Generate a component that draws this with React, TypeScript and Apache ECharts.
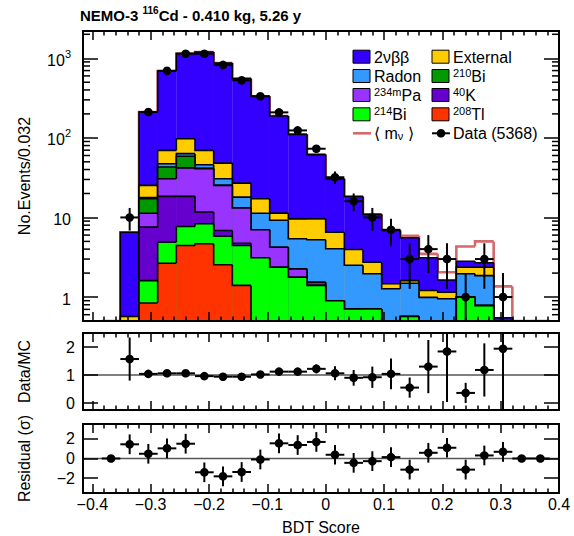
import React, { useEffect, useRef } from "react";
import * as echarts from "echarts";

const FONT = "'Liberation Sans', Arial, Helvetica, sans-serif";

const binWidth = 0.032;
const bdtBins = [
  -0.368, -0.336, -0.304, -0.272, -0.24, -0.208, -0.176, -0.144, -0.112, -0.08, -0.048, -0.016,
  0.016, 0.048, 0.08, 0.112, 0.144, 0.176, 0.208, 0.24, 0.272, 0.304, 0.336, 0.368,
];

// MC components (events per bin), stacking order bottom -> top
const tl208 = [0, 0, 0.84, 2.66, 4.44, 4.67, 2.54, 1.4, 0, 0, 0, 0, 0, 0, 0, 0, 0, 0, 0, 0, 0, 0, 0, 0];
const bi214 = [0, 0, 0.77, 2.23, 3.27, 3.67, 3.28, 3.04, 3.11, 2.37, 1.77, 1.4, 0.9, 0.71, 0.71, 0, 0.57, 0, 0, 1.01, 0.78, 0, 0, 0];
const k40 = [0, 0, 5.94, 13.5, 10.7, 3.36, 1.04, 0.31, 0, 0, 0, 0, 0, 0, 0, 0, 0, 0, 0, 0, 0, 0, 0, 0];
const pa234m = [0, 0, 3.75, 12.3, 23.6, 29.3, 18.4, 8.45, 3.9, 1.86, 0.49, 0.13, 0, 0, 0, 0, 0, 0, 0, 0, 0, 0, 0, 0];
const bi210 = [0, 0, 5.9, 12.3, 16.6, 0.5, 0, 0, 0, 0, 0, 0, 0, 0, 0, 0, 0, 0, 0, 0, 0, 0, 0, 0];
const radon = [0, 0, 0.6, 4.3, 4.7, 4.5, 5.4, 4.8, 4.3, 5.0, 3.14, 3.71, 3.14, 1.8, 1.25, 1.27, 0.92, 0.99, 0.95, 0.95, 1.08, 0, 0, 0];
const external = [0, 0.57, 7.5, 22.3, 34.3, 23.6, 17.5, 9.0, 5.9, 2.1, 4.2, 4.36, 2.49, 1.45, 0.78, 0.2, 0.12, 0.22, 0.2, 0.41, 0.51, 0, 0, 0];
const twoNuBB = [0, 5.96, 185.7, 622, 1048, 1130, 825, 529, 316, 177, 101, 52, 24, 14.4, 8.2, 5.4, 3.94, 1.9, 0.49, 0.45, 0.33, 0.55, 0, 0];
const mnuSignal = [0, 0, 0, 0, 0, 0, 0, 0, 0, 0, 0, 0, 0, 0, 0, 0, 0.35, 0.38, 0.41, 1.5, 2.3, 0.81, 0, 0];

const dataCounts = [0, 10, 211, 695, 1140, 1140, 825, 528, 333, 209, 124, 73, 32, 16, 10, 7, 3, 4, 3, 1, 3, 1, 0, 0];

const ratio = [null, 1.57, 1.04, 1.06, 1.06, 0.96, 0.94, 0.94, 1.02, 1.12, 1.12, 1.22, 1.06, 0.9, 0.92, 1.04, 0.55, 1.3, 1.84, 0.36, 1.18, 1.94, null, null];
const ratioErr = [0, 0.77, 0.06, 0.04, 0.03, 0.03, 0.03, 0.04, 0.05, 0.07, 0.09, 0.16, 0.25, 0.28, 0.38, 0.55, 0.36, 0.95, 1.8, 0.36, 0.95, 2.5, 0, 0];

const resid = [0, 1.44, 0.48, 1.03, 1.5, -1.4, -1.81, -1.37, -0.1, 1.54, 1.37, 1.68, 0.38, -0.44, -0.27, 0.14, -1.13, 0.58, 1.09, -1.13, 0.31, 0.68, 0, 0];
const residErr = [0, 1, 1, 1, 1, 1, 1, 1, 1, 1, 1, 1, 1, 1, 1, 1, 1, 1, 1, 1, 1, 1, 0, 0];

const logMinorTicks = [0.6, 0.7, 0.8, 0.9, 2, 3, 4, 5, 6, 7, 8, 9, 20, 30, 40, 50, 60, 70, 80, 90, 200, 300, 400, 500, 600, 700, 800, 900, 2000];

const X_MIN = -0.416;
const X_MAX = 0.4;
const Y_MIN = 0.5;
const Y_MAX = 2200;
const RATIO_MIN = -0.25;
const RATIO_MAX = 2.5;
const RES_MIN = -3.5;
const RES_MAX = 3.5;

const layers = [
  { name: "208Tl", values: tl208, color: "#ff3300" },
  { name: "214Bi", values: bi214, color: "#00ff00" },
  { name: "40K", values: k40, color: "#6600cc" },
  { name: "234mPa", values: pa234m, color: "#9933ff" },
  { name: "210Bi", values: bi210, color: "#009900" },
  { name: "Radon", values: radon, color: "#3399ff" },
  { name: "External", values: external, color: "#ffcc00" },
  { name: "2nbb", values: twoNuBB, color: "#3300ff" },
];

const MNU_COLOR = "#d46a6a";

function cumulative(): number[][] {
  const out: number[][] = [];
  let run = bdtBins.map(() => 0);
  for (const L of layers) {
    run = run.map((r, i) => r + L.values[i]);
    out.push(run);
  }
  return out;
}

function histData(vals: number[]) {
  return bdtBins.map((x, i) => [x, Math.max(vals[i], Y_MIN), Math.max(i > 0 ? vals[i - 1] : 0, Y_MIN)]);
}

function histRender(fill: string | null, stroke: string, lw: number) {
  return (params: any, api: any) => {
    const x = api.value(0);
    const top = api.value(1);
    const prev = api.value(2);
    const a = api.coord([x - binWidth / 2, top]);
    const b = api.coord([x + binWidth / 2, top]);
    const p = api.coord([x - binWidth / 2, prev]);
    const base = api.coord([x, Y_MIN])[1];
    const children: any[] = [];
    if (fill && top > Y_MIN) {
      children.push({
        type: "rect",
        shape: { x: a[0], y: a[1], width: b[0] - a[0] + 0.3, height: base - a[1] },
        style: { fill },
      });
    }
    children.push({
      type: "polyline",
      shape: { points: [[p[0], p[1]], [a[0], a[1]], [b[0], b[1]]] },
      style: { stroke, lineWidth: lw, fill: null },
    });
    return { type: "group", children };
  };
}

function pointRender(yLow: number, yHigh: number) {
  return (params: any, api: any) => {
    const x = api.value(0);
    const y = api.value(1);
    const e = api.value(2);
    const c = api.coord([x, y]);
    const l = api.coord([x - binWidth / 2, y]);
    const r = api.coord([x + binWidth / 2, y]);
    const children: any[] = [
      { type: "line", shape: { x1: l[0], y1: l[1], x2: r[0], y2: r[1] }, style: { stroke: "#000", lineWidth: 2 } },
    ];
    if (e > 0) {
      const lo = api.coord([x, Math.max(y - e, yLow)]);
      const hi = api.coord([x, Math.min(y + e, yHigh)]);
      children.push({ type: "line", shape: { x1: lo[0], y1: lo[1], x2: hi[0], y2: hi[1] }, style: { stroke: "#000", lineWidth: 2 } });
    }
    children.push({ type: "circle", shape: { cx: c[0], cy: c[1], r: 4.3 }, style: { fill: "#000" } });
    return { type: "group", children };
  };
}

const xFmt = (v: number) => {
  if (Math.abs(v) < 1e-9) return "0";
  const a = Math.abs(v).toFixed(1);
  return (v < 0 ? "\u2212" : "") + a;
};
const yFmt = (v: number) => {
  if (Math.abs(v) < 1e-9) return "0";
  return (v < 0 ? "\u2212" : "") + String(Math.abs(Math.round(v * 100) / 100));
};
const logFmt = (v: number) => {
  const e = Math.round(Math.log10(v));
  if (e <= 0) return "{n|1}";
  if (e === 1) return "{n|10}";
  return "{n|10}{s|" + e + "}";
};

const labelRich = {
  n: { fontSize: 16, fontFamily: FONT, color: "#000", lineHeight: 20, verticalAlign: "bottom" },
  s: { fontSize: 11, fontFamily: FONT, color: "#000", lineHeight: 8, verticalAlign: "top" },
};

function makeX(gi: number, pos: string, labels: boolean, majorLen: number, minorLen: number, extra: any = {}) {
  return {
    type: "value",
    gridIndex: gi,
    position: pos,
    min: X_MIN,
    max: X_MAX,
    splitNumber: 8,
    z: 10,
    axisLine: { show: true, onZero: false, lineStyle: { color: "#000", width: 2 } },
    axisTick: { show: true, inside: true, length: majorLen, lineStyle: { color: "#000", width: 1.5 } },
    minorTick: { show: true, splitNumber: 5, length: minorLen, lineStyle: { color: "#000", width: 1.5 } },
    splitLine: { show: false },
    minorSplitLine: { show: false },
    axisLabel: {
      show: labels,
      formatter: xFmt,
      fontSize: 16,
      fontFamily: FONT,
      color: "#000",
      margin: 3,
      showMinLabel: false,
      showMaxLabel: true,
    },
    ...extra,
  };
}

function makeY(gi: number, pos: string, labels: boolean, min: number, max: number, split: number, majorLen: number, extra: any = {}) {
  return {
    type: "value",
    gridIndex: gi,
    position: pos,
    min,
    max,
    splitNumber: split,
    z: 10,
    axisLine: { show: true, onZero: false, lineStyle: { color: "#000", width: 2 } },
    axisTick: { show: true, inside: true, length: majorLen, lineStyle: { color: "#000", width: 1.5 } },
    splitLine: { show: false },
    axisLabel: {
      show: labels,
      formatter: yFmt,
      fontSize: 16,
      fontFamily: FONT,
      color: "#000",
      margin: 8,
      showMinLabel: false,
      showMaxLabel: false,
    },
    nameLocation: "middle",
    nameGap: 51,
    nameTextStyle: { fontSize: 16, fontFamily: FONT, color: "#000" },
    ...extra,
  };
}

function buildOption() {
  const cum = cumulative();
  const total = cum[cum.length - 1];
  const mnuTotal = total.map((t, i) => t + mnuSignal[i]);

  const series: any[] = [];
  // <m_nu> outline
  series.push({
    type: "custom",
    name: "mnu",
    xAxisIndex: 0,
    yAxisIndex: 0,
    clip: true,
    renderItem: histRender(null, MNU_COLOR, 2.6),
    data: histData(mnuTotal),
    encode: { x: 0, y: 1 },
  });
  for (let k = layers.length - 1; k >= 0; k--) {
    series.push({
      type: "custom",
      name: layers[k].name,
      xAxisIndex: 0,
      yAxisIndex: 0,
      clip: true,
      renderItem: histRender(layers[k].color, "#000", 1.6),
      data: histData(cum[k]),
      encode: { x: 0, y: 1 },
    });
  }
  // log minor ticks
  series.push({
    type: "custom",
    name: "minorTicks",
    xAxisIndex: 0,
    yAxisIndex: 0,
    z: 11,
    renderItem: (params: any, api: any) => {
      const v = api.value(1);
      const p = api.coord([X_MIN, v]);
      const q = api.coord([X_MAX, v]);
      return {
        type: "group",
        children: [
          { type: "line", shape: { x1: p[0], y1: p[1], x2: p[0] + 7, y2: p[1] }, style: { stroke: "#000", lineWidth: 1.5 } },
          { type: "line", shape: { x1: q[0] - 7, y1: q[1], x2: q[0], y2: q[1] }, style: { stroke: "#000", lineWidth: 1.5 } },
        ],
      };
    },
    data: logMinorTicks.map((v) => [X_MIN, v]),
    encode: { x: 0, y: 1 },
  });
  // data points
  series.push({
    type: "custom",
    name: "Data",
    xAxisIndex: 0,
    yAxisIndex: 0,
    clip: true,
    z: 12,
    renderItem: pointRender(Y_MIN, Y_MAX),
    data: bdtBins
      .map((x, i) => [x, dataCounts[i], Math.sqrt(dataCounts[i])])
      .filter((d) => d[1] > 0),
    encode: { x: 0, y: 1 },
  });
  // ratio panel
  series.push({
    type: "line",
    xAxisIndex: 2,
    yAxisIndex: 2,
    symbol: "none",
    silent: true,
    lineStyle: { color: "#555", width: 1.4 },
    data: [[X_MIN, 1], [X_MAX, 1]],
  });
  series.push({
    type: "custom",
    name: "ratio",
    xAxisIndex: 2,
    yAxisIndex: 2,
    clip: true,
    z: 12,
    renderItem: pointRender(RATIO_MIN - 1, RATIO_MAX + 1),
    data: bdtBins
      .map((x, i) => [x, ratio[i] as any, ratioErr[i]])
      .filter((d) => d[1] !== null),
    encode: { x: 0, y: 1 },
  });
  // residual panel
  series.push({
    type: "line",
    xAxisIndex: 4,
    yAxisIndex: 4,
    symbol: "none",
    silent: true,
    lineStyle: { color: "#555", width: 1.4 },
    data: [[X_MIN, 0], [X_MAX, 0]],
  });
  series.push({
    type: "custom",
    name: "resid",
    xAxisIndex: 4,
    yAxisIndex: 4,
    clip: true,
    z: 12,
    renderItem: pointRender(RES_MIN - 1, RES_MAX + 1),
    data: bdtBins.map((x, i) => [x, resid[i], residErr[i]]),
    encode: { x: 0, y: 1 },
  });

  const gridBase = { left: 83, right: 15, show: true, borderColor: "#000", borderWidth: 2, backgroundColor: "#fff" };

  const legendRows = [56.7, 76, 95, 114.3, 133.3];
  const legRich = {
    n: { fontSize: 16, fontFamily: FONT, color: "#000", lineHeight: 17, verticalAlign: "bottom" },
    s: { fontSize: 11, fontFamily: FONT, color: "#000", lineHeight: 8, verticalAlign: "top" },
    d: { fontSize: 11, fontFamily: FONT, color: "#000", lineHeight: 8, verticalAlign: "bottom" },
  };
  const legendItems = [
    { col: 0, row: 0, color: "#3300ff", text: "{n|2\u03bd\u03b2\u03b2}" },
    { col: 0, row: 1, color: "#3399ff", text: "{n|Radon}" },
    { col: 0, row: 2, color: "#9933ff", text: "{s|234m}{n|Pa}" },
    { col: 0, row: 3, color: "#00ff00", text: "{s|214}{n|Bi}" },
    { col: 1, row: 0, color: "#ffcc00", text: "{n|External}" },
    { col: 1, row: 1, color: "#009900", text: "{s|210}{n|Bi}" },
    { col: 1, row: 2, color: "#6600cc", text: "{s|40}{n|K}" },
    { col: 1, row: 3, color: "#ff3300", text: "{s|208}{n|Tl}" },
  ];
  const colX = [353, 432];
  const graphics: any[] = [];
  for (const it of legendItems) {
    const cy = legendRows[it.row];
    graphics.push({
      type: "rect",
      shape: { x: colX[it.col], y: cy - 6.5, width: 17, height: 13 },
      style: { fill: it.color, stroke: "#000", lineWidth: 1 },
      z: 100,
    });
    graphics.push({
      type: "text",
      x: colX[it.col] + 21,
      y: cy,
      style: { text: it.text, rich: legRich, verticalAlign: "middle", align: "left" },
      z: 100,
    });
  }
  const cy5 = legendRows[4];
  graphics.push({
    type: "line",
    shape: { x1: colX[0], y1: cy5, x2: colX[0] + 18, y2: cy5 },
    style: { stroke: MNU_COLOR, lineWidth: 2.6 },
    z: 100,
  });
  graphics.push({
    type: "text",
    x: colX[0] + 21,
    y: cy5,
    style: { text: "{n|\u27e8 m}{d|\u03bd}{n| \u27e9}", rich: legRich, verticalAlign: "middle", align: "left" },
    z: 100,
  });
  graphics.push({
    type: "line",
    shape: { x1: colX[1], y1: cy5, x2: colX[1] + 18, y2: cy5 },
    style: { stroke: "#000", lineWidth: 2 },
    z: 100,
  });
  graphics.push({
    type: "circle",
    shape: { cx: colX[1] + 9, cy: cy5, r: 4.3 },
    style: { fill: "#000" },
    z: 100,
  });
  graphics.push({
    type: "text",
    x: colX[1] + 21,
    y: cy5,
    style: { text: "{n|Data (5368)}", rich: legRich, verticalAlign: "middle", align: "left" },
    z: 100,
  });
  // title
  graphics.push({
    type: "text",
    x: 80,
    y: 14,
    style: {
      text: "{b|NEMO-3 }{bs|116}{b|Cd - 0.410 kg, 5.26 y}",
      rich: {
        b: { fontSize: 15, fontWeight: "bold", fontFamily: FONT, color: "#000", lineHeight: 18, verticalAlign: "bottom" },
        bs: { fontSize: 10, fontWeight: "bold", fontFamily: FONT, color: "#000", lineHeight: 7, verticalAlign: "top" },
      },
      verticalAlign: "middle",
      align: "left",
    },
  });

  return {
    animation: false,
    backgroundColor: "#fff",
    grid: [
      { ...gridBase, top: 31, height: 290 },
      { ...gridBase, top: 333, height: 77 },
      { ...gridBase, top: 424, height: 69 },
    ],
    xAxis: [
      makeX(0, "bottom", false, 9, 4.5),
      makeX(0, "top", false, 9, 4.5),
      makeX(1, "bottom", false, 9, 4.5),
      makeX(1, "top", false, 9, 4.5),
      makeX(2, "bottom", true, 9, 4.5, {
        name: "BDT Score",
        nameLocation: "middle",
        nameGap: 26,
        nameTextStyle: { fontSize: 16, fontFamily: FONT, color: "#000" },
      }),
      makeX(2, "top", false, 9, 4.5),
    ],
    yAxis: [
      {
        type: "log",
        logBase: 10,
        gridIndex: 0,
        position: "left",
        min: Y_MIN,
        max: Y_MAX,
        z: 10,
        axisLine: { show: true, onZero: false, lineStyle: { color: "#000", width: 2 } },
        axisTick: { show: true, inside: true, length: 15, lineStyle: { color: "#000", width: 1.5 } },
        splitLine: { show: false },
        axisLabel: {
          formatter: logFmt,
          rich: labelRich,
          margin: 12,
          showMinLabel: false,
          showMaxLabel: false,
        },
        name: "No.Events/0.032",
        nameLocation: "middle",
        nameGap: 51,
        nameTextStyle: { fontSize: 16, fontFamily: FONT, color: "#000" },
      },
      {
        type: "log",
        logBase: 10,
        gridIndex: 0,
        position: "right",
        min: Y_MIN,
        max: Y_MAX,
        z: 10,
        axisLine: { show: true, onZero: false, lineStyle: { color: "#000", width: 2 } },
        axisTick: { show: true, inside: true, length: 15, lineStyle: { color: "#000", width: 1.5 } },
        splitLine: { show: false },
        axisLabel: { show: false },
      },
      makeY(1, "left", true, RATIO_MIN, RATIO_MAX, 3, 15, { name: "Data/MC" }),
      makeY(1, "right", false, RATIO_MIN, RATIO_MAX, 3, 15),
      makeY(2, "left", true, RES_MIN, RES_MAX, 3, 15, { name: "Residual (\u03c3)" }),
      makeY(2, "right", false, RES_MIN, RES_MAX, 3, 15),
    ],
    graphic: graphics,
    series,
  };
}

export default function App() {
  const ref = useRef<HTMLDivElement>(null);
  useEffect(() => {
    document.body.style.margin = "0";
    const chart = echarts.init(ref.current!, null, { renderer: "svg" });
    chart.setOption(buildOption() as any);
    return () => chart.dispose();
  }, []);
  return <div ref={ref} style={{ width: 574, height: 536 }} />;
}
